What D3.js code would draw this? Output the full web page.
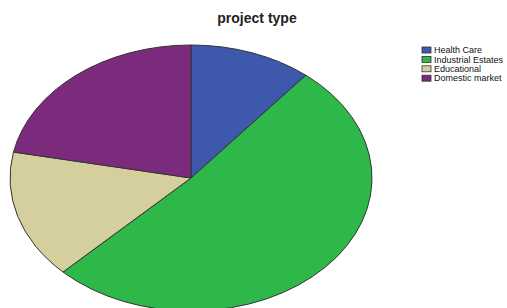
<!DOCTYPE html>
<html><head><meta charset="utf-8">
<script src="https://cdn.jsdelivr.net/npm/d3@7"></script>
<style>body{margin:0;background:#fff}svg{display:block}</style>
</head><body>
<svg id="c" width="507" height="308"></svg>
<script>
const categories = ["Health Care", "Industrial Estates", "Educational", "Domestic market"];
const counts = [7, 33, 10, 14];
const colors = ["#3e58ac", "#2eb84a", "#d4cf9c", "#7c2a7c"];
const title = "project type";

const svg = d3.select("#c");
const cx = 191, cy = 178, rx = 181, ry = 133;

svg.append("text").attr("x", 257).attr("y", 23).attr("text-anchor", "middle")
  .attr("font-family", "Liberation Sans, Arial, sans-serif").attr("font-weight", "bold")
  .attr("font-size", 14).attr("fill", "#222").text(title);

const pie = d3.pie().sort(null).value(d => d);
const arc = d3.arc().innerRadius(0).outerRadius(rx);
const g = svg.append("g").attr("transform", `translate(${cx},${cy}) scale(1,${ry/rx})`);
g.selectAll("path").data(pie(counts)).join("path")
  .attr("d", arc).attr("fill", (d,i) => colors[i])
  .attr("stroke", "#333").attr("stroke-width", 1)
  .attr("vector-effect", "non-scaling-stroke");

const leg = svg.append("g").attr("transform", "translate(422,47)");
const rows = leg.selectAll("g").data(categories).join("g")
  .attr("transform", (d,i) => `translate(0,${i*9.4})`);
rows.append("rect").attr("width", 9).attr("height", 6).attr("fill", (d,i) => colors[i])
  .attr("stroke", "#333").attr("stroke-width", 0.8);
rows.append("text").attr("x", 12).attr("y", 6.2).attr("font-size", 9)
  .attr("font-family", "Liberation Sans, Arial, sans-serif").attr("fill", "#111").text(d => d);
</script>
</body></html>
